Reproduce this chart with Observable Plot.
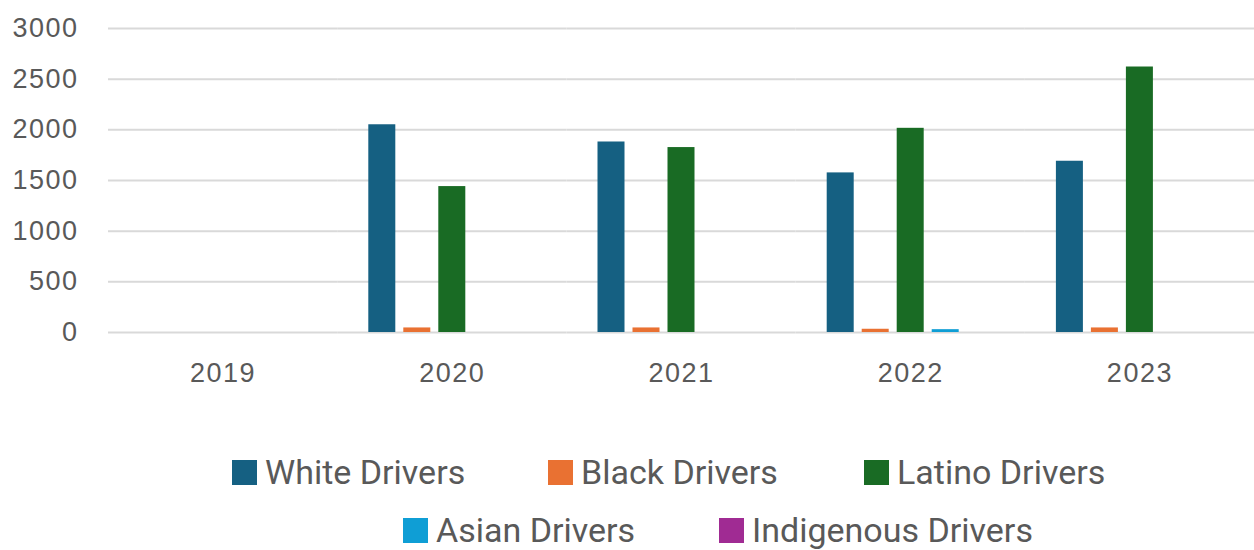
<!DOCTYPE html>
<html>
<head>
<meta charset="utf-8">
<script src="https://cdn.jsdelivr.net/npm/d3@7"></script>
<script src="https://cdn.jsdelivr.net/npm/@observablehq/plot@0.6"></script>
<style>
  html, body { margin: 0; padding: 0; background: #fff; }
  #wrap { position: relative; width: 1254px; height: 550px; overflow: hidden; }
  #chart svg text { letter-spacing: 1.5px; }
  #legend { position: absolute; left: 0; top: 443px; width: 1254px; font-family: Roboto, sans-serif; font-size: 34px; color: #595959; }
  .row { display: flex; height: 58px; align-items: center; }
  .item { display: flex; align-items: center; width: 316px; }
  .sw { width: 25px; height: 25px; margin-right: 8px; flex: none; }
</style>
</head>
<body>
<div id="wrap">
  <div id="chart"></div>
  <div id="legend"></div>
</div>
<script>
const years = ["2019", "2020", "2021", "2022", "2023"];
const races = ["White Drivers", "Black Drivers", "Latino Drivers", "Asian Drivers", "Indigenous Drivers"];
const white = [0, 2050, 1880, 1575, 1690];
const black = [0, 45, 45, 32, 45];
const latino = [0, 1440, 1825, 2015, 2620];
const asian = [0, 0, 0, 28, 0];
const indigenous = [0, 0, 0, 0, 0];
const yTicks = [0, 500, 1000, 1500, 2000, 2500, 3000];
const colors = ["#156082", "#E97132", "#196B24", "#0F9ED5", "#A02B93"];

const series = [white, black, latino, asian, indigenous];
const rows = [];
years.forEach((yr, i) => {
  races.forEach((r, j) => rows.push({year: yr, race: r, value: series[j][i]}));
});

const chart = Plot.plot({
  width: 1254,
  height: 400,
  marginLeft: 108,
  marginRight: 0,
  marginTop: 28,
  marginBottom: 68,
  fx: {domain: years, padding: 0, label: null, round: false},
  x: {domain: races, axis: null, round: false, paddingInner: 8/35, paddingOuter: 4/35, insetLeft: 27.1, insetRight: 27.1},
  y: {domain: [0, 3000], label: null},
  color: {domain: races, range: colors},
  style: {fontFamily: "'Liberation Sans', Arial, sans-serif", fontSize: "27px", color: "#595959", background: "#fff"},
  marks: [
    Plot.ruleY(yTicks, {stroke: "#d9d9d9", strokeWidth: 2}),
    Plot.barY(rows, {fx: "year", x: "race", y: "value", fill: "race"}),
    Plot.axisY({ticks: yTicks, tickSize: 0, tickPadding: 30, tickFormat: d => String(d), label: null, fill: "#595959"}),
    Plot.axisFx({anchor: "bottom", tickSize: 0, tickPadding: 30, label: null, fill: "#595959"})
  ]
});
document.getElementById("chart").appendChild(chart);

const legend = document.getElementById("legend");
const layout = [[0, 1, 2], [3, 4]];
const pads = [232, 403];
layout.forEach((idx, r) => {
  const row = document.createElement("div");
  row.className = "row";
  row.style.paddingLeft = pads[r] + "px";
  idx.forEach(i => {
    const it = document.createElement("div");
    it.className = "item";
    const sw = document.createElement("span");
    sw.className = "sw";
    sw.style.background = colors[i];
    const t = document.createElement("span");
    t.textContent = races[i];
    it.appendChild(sw);
    it.appendChild(t);
    row.appendChild(it);
  });
  legend.appendChild(row);
});
</script>
</body>
</html>
